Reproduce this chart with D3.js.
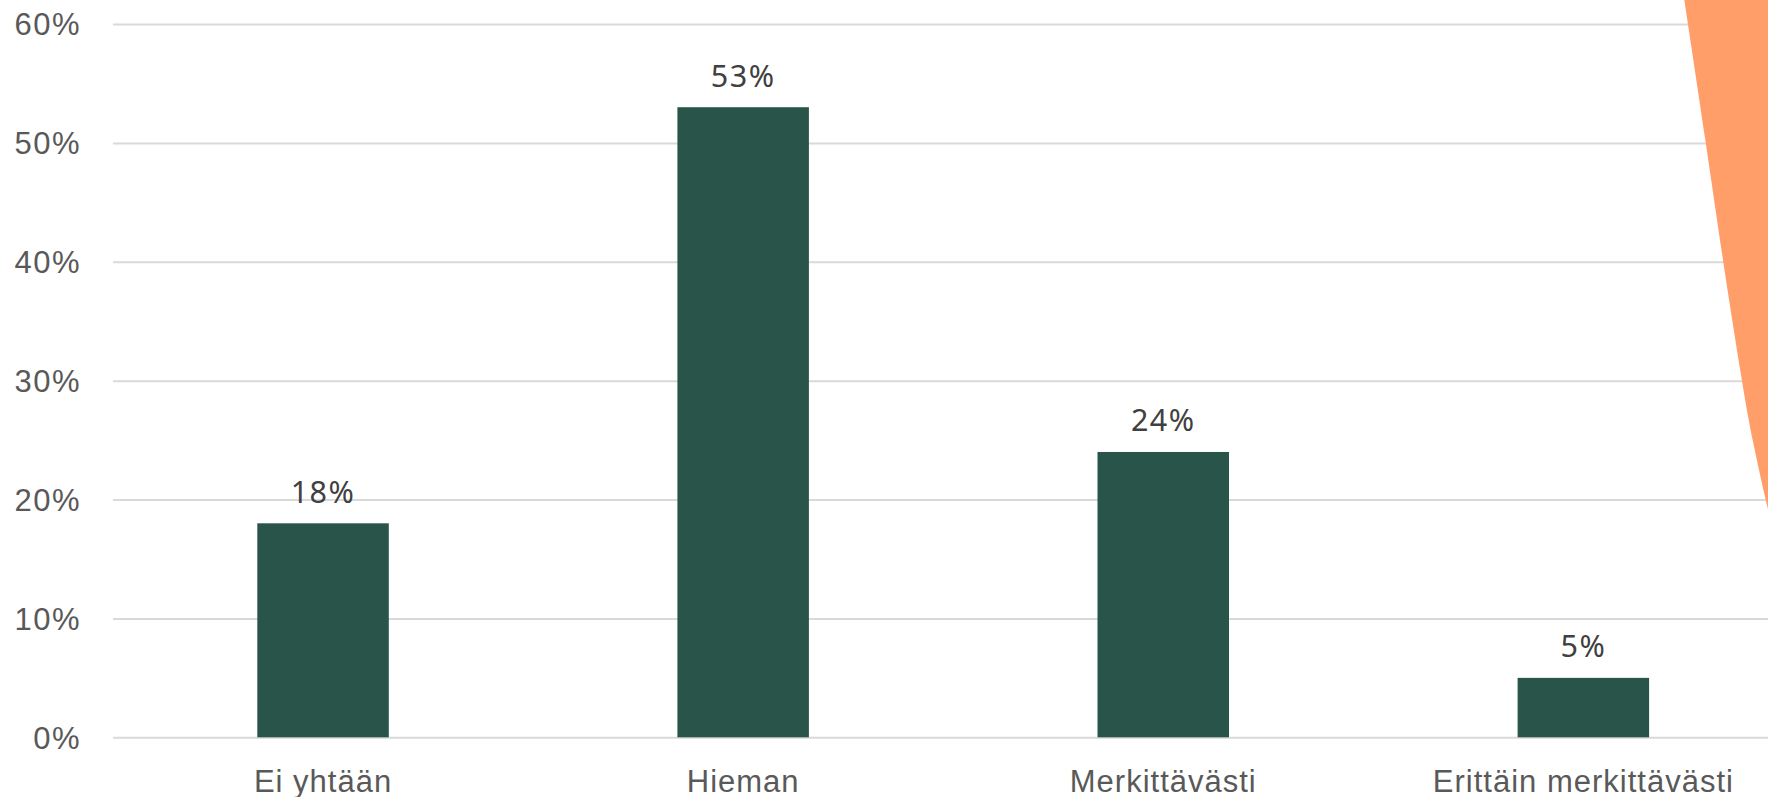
<!DOCTYPE html>
<html lang="fi">
  <head>
    <meta charset="UTF-8" />
    <title>Kuvaaja</title>
    <style>
      html, body { margin: 0; padding: 0; background: #fff; overflow: hidden; }
      svg { display: block; font-family: "Noto Sans", "Open Sans", sans-serif; }
      .grid line { stroke: #d9d9d9; stroke-width: 2; }
      .grid path { display: none; }
      .y-axis text { fill: #595959; font-size: 31px; letter-spacing: 1.5px; }
      .x-axis text { fill: #595959; font-size: 31px; letter-spacing: 1px; }
      .y-axis path, .y-axis line, .x-axis path, .x-axis line { display: none; }
      .label { fill: #404040; font-size: 30.5px; letter-spacing: 1.5px; }
    </style>
  </head>

  <body>
    <script src="https://cdn.jsdelivr.net/npm/d3@7/dist/d3.min.js"></script>

    <script>
    var categories = ["Ei yhtään", "Hieman", "Merkittävästi", "Erittäin merkittävästi"];
    var values = [18, 53, 24, 5];
    var yTicks = [0, 10, 20, 30, 40, 50, 60];

    var width = 1768;
    var height = 797;

    var margin = {
      top: 24,
      left: 113,
      bottom: 60
    };

    var svg = d3.select("body")
                .append("svg")
                .attr("width", width)
                .attr("height", height);

    var xScale = d3.scaleBand()
                   .domain(categories)
                   .range([margin.left, margin.left + 4 * 420.1])
                   .paddingInner(0.687)
                   .paddingOuter(0.3435);

    var yScale = d3.scaleLinear()
                   .domain([0, 60])
                   .range([737.3, margin.top]);

    // gridlines
    svg.append("g")
       .attr("class", "grid")
       .attr("transform", "translate(" + margin.left + ",0)")
       .call(d3.axisLeft(yScale)
               .tickValues(yTicks)
               .tickSize(-(width - margin.left))
               .tickFormat(""));

    var yAxis = d3.axisLeft(yScale)
                  .tickValues(yTicks)
                  .tickSize(0)
                  .tickPadding(0)
                  .tickFormat(function(d) { return d + "%"; });

    svg.append("g")
       .attr("class", "y-axis")
       .attr("transform", "translate(81,0)")
       .call(yAxis)
       .selectAll("text")
       .attr("dy", "0.35em");

    svg.selectAll(".bar")
       .data(values)
       .enter().append("rect")
       .attr("class", "bar")
       .attr("fill", "#29544a")
       .attr("x", function(d, i) { return xScale(categories[i]); })
       .attr("width", xScale.bandwidth())
       .attr("y", function(d) { return yScale(d); })
       .attr("height", function(d) { return yScale(0) - yScale(d); });

    svg.selectAll(".label")
       .data(values)
       .enter().append("text")
       .attr("class", "label")
       .attr("text-anchor", "middle")
       .attr("x", function(d, i) { return xScale(categories[i]) + xScale.bandwidth() / 2; })
       .attr("y", function(d) { return yScale(d) - 20.5; })
       .text(function(d) { return d + "%"; });

    var xAxis = d3.axisBottom(xScale)
                  .tickSize(0)
                  .tickPadding(0);

    svg.append("g")
       .attr("class", "x-axis")
       .attr("transform", "translate(0," + 792 + ")")
       .call(xAxis)
       .selectAll("text")
       .attr("dy", "0");

    // orange decoration at the right edge
    var blob = [[1684, -2], [1706, 143], [1723, 262], [1742, 382], [1752, 440], [1770, 518]];
    var line = d3.line().curve(d3.curveBasis);
    svg.append("path")
       .attr("d", line(blob) + "L1770,-2Z")
       .attr("fill", "#ff9e69");
    </script>
  </body>
</html>
